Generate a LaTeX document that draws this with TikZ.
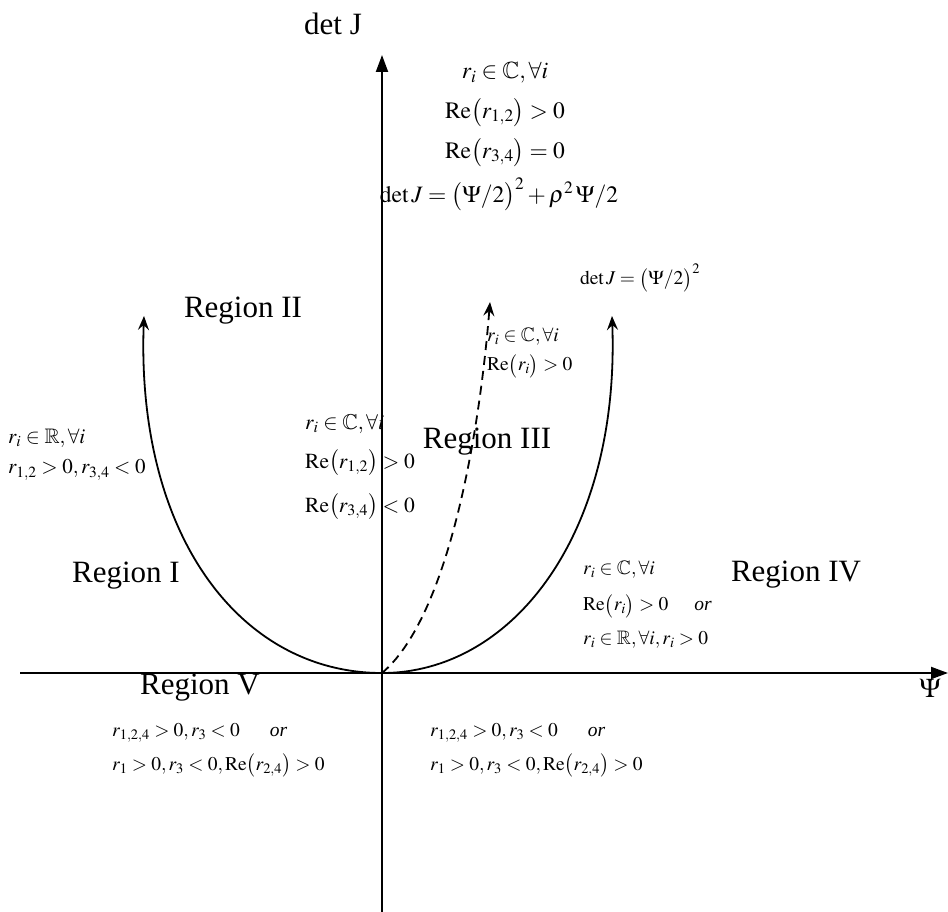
\documentclass[tikz,border=0pt]{standalone}
\usepackage{mathptmx}
\usepackage{amssymb}
\usepackage{fontspec}
\setmainfont{Liberation Serif}
\usetikzlibrary{arrows.meta}
\newcommand{\pl}{\mathopen{\smash{\bigl(}}}
\newcommand{\pr}{\mathclose{\smash{\bigr)}}}
\begin{document}
\begin{tikzpicture}[x=1pt,y=-1pt,
  axis/.style={line width=2pt,-{Triangle[length=17pt,width=12pt]}},
  curve/.style={line width=1.8pt,-{Stealth[length=14pt,width=11pt,inset=5pt]}},
  region/.style={font=\fontsize{31}{36}\selectfont, inner sep=0pt},
  mtop/.style={font=\fontsize{23.5}{27}\selectfont, inner sep=0pt},
  mmid/.style={font=\fontsize{21.5}{25}\selectfont, inner sep=0pt},
  mleft/.style={font=\fontsize{21}{25}\selectfont, inner sep=0pt},
  msmall/.style={font=\fontsize{19.5}{23}\selectfont, inner sep=0pt}]
\useasboundingbox (0,0) rectangle (948,912);
\coordinate (O) at (382,673);
\coordinate (yb) at (382,912);
\coordinate (yt) at (382,55);
\coordinate (xl) at (20,673);
\coordinate (xr) at (948,673);
\coordinate (tl) at (144,316);
\coordinate (tr) at (612,316);
\coordinate (td) at (490,302);
\draw[axis] (yb) -- (yt);
\draw[axis] (xl) -- (xr);
\draw[curve] (O) .. controls (240,673) and (136,535) .. (tl);
\draw[curve] (O) .. controls (512,673) and (620,535) .. (tr);
\draw[curve,dash pattern=on 9pt off 6pt] (O) .. controls (445,620) and (478,450) .. (td);
% axis labels
\node[region] (dj) at (333,24) {det J};
\node[region,font=\fontsize{27}{30}\selectfont] (psi) at (930,688) {$\Psi$};
% top block
\node[mtop] (t1) at (505,73) {$r_i\in\mathbb{C},\forall i$};
\node[mtop] (t2) at (505,114) {$\mathrm{Re}\pl r_{1,2}\pr>0$};
\node[mtop] (t3) at (505,154) {$\mathrm{Re}\pl r_{3,4}\pr=0$};
\node[mtop] (t4) at (499,194) {$\det J=\bigl(\Psi/2\bigr)^2+\rho^2\,\Psi/2$};
% right curve label
\node[msmall] (dj2) at (640,278) {$\det J=\bigl(\Psi/2\bigr)^2$};
% dashed label
\node[msmall,anchor=west] (d1) at (487,337) {$r_i\in\mathbb{C},\forall i$};
\node[msmall,anchor=west] (d2) at (487,366) {$\mathrm{Re}\pl r_i\pr>0$};
% regions
\node[region] (r2) at (243,311) {Region II};
\node[region] (r3) at (487,442) {Region III};
\node[region] (r1) at (126,576) {Region I};
\node[region] (r4) at (796,575) {Region IV};
\node[region] (r5) at (200,688) {Region V};
% left block
\node[mleft,anchor=west] (l1) at (8,438) {$r_i\in\mathbb{R},\forall i$};
\node[mleft,anchor=west] (l2) at (8,470) {$r_{1,2}>0,r_{3,4}<0$};
% center block
\node[mmid,anchor=west] (c1) at (305,424) {$r_i\in\mathbb{C},\forall i$};
\node[mmid,anchor=west] (c2) at (305,464) {$\mathrm{Re}\pl r_{1,2}\pr>0$};
\node[mmid,anchor=west] (c3) at (305,508) {$\mathrm{Re}\pl r_{3,4}\pr<0$};
% region IV block
\node[msmall,anchor=west] (f1) at (583,570) {$r_i\in\mathbb{C},\forall i$};
\node[msmall,anchor=west] (f2) at (583,606) {$\mathrm{Re}\pl r_i\pr>0$\hspace{26pt}\textit{or}};
\node[msmall,anchor=west] (f3) at (583,640) {$r_i\in\mathbb{R},\forall i,r_i>0$};
% bottom blocks
\node[msmall,anchor=west] (b1) at (112,733) {$r_{1,2,4}>0,r_3<0$\hspace{30pt}\textit{or}};
\node[msmall,anchor=west] (b2) at (112,767) {$r_1>0,r_3<0,\mathrm{Re}\pl r_{2,4}\pr>0$};
\node[msmall,anchor=west] (b3) at (430,733) {$r_{1,2,4}>0,r_3<0$\hspace{30pt}\textit{or}};
\node[msmall,anchor=west] (b4) at (430,767) {$r_1>0,r_3<0,\mathrm{Re}\pl r_{2,4}\pr>0$};
\end{tikzpicture}
\end{document}
